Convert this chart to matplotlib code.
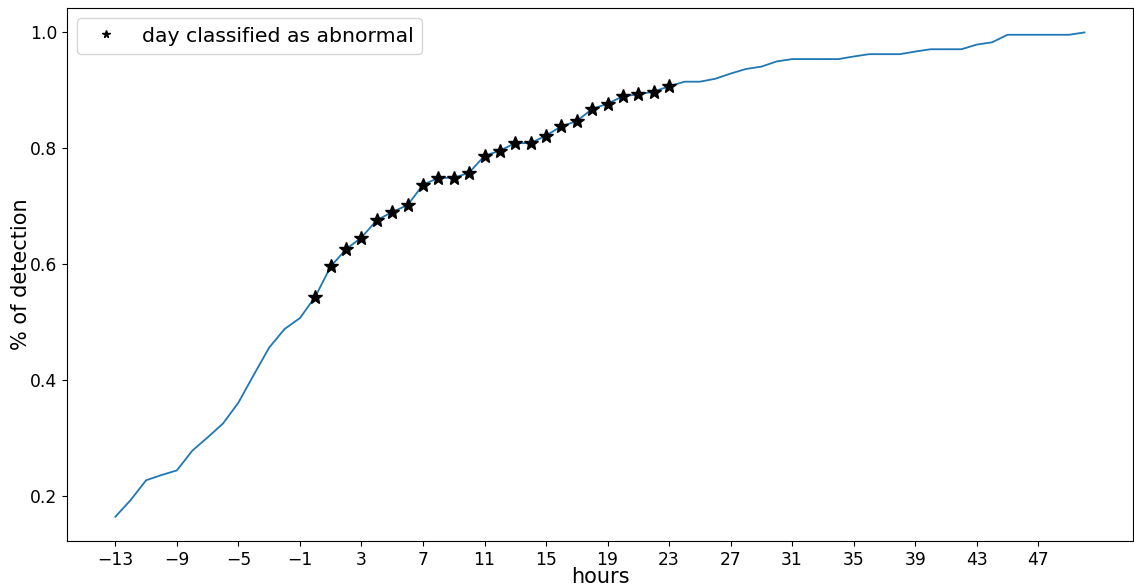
import numpy as np
import matplotlib.pyplot as plt

hours = np.arange(-13, 51)
detection = [0.164, 0.193, 0.227, 0.236, 0.244, 0.278, 0.301, 0.325, 0.361, 0.409,
             0.456, 0.488, 0.507, 0.544, 0.596, 0.626, 0.646, 0.676, 0.690, 0.702,
             0.737, 0.749, 0.749, 0.758, 0.787, 0.796, 0.809, 0.809, 0.822, 0.838,
             0.847, 0.868, 0.877, 0.890, 0.893, 0.898, 0.907, 0.915, 0.915, 0.920,
             0.929, 0.937, 0.941, 0.950, 0.954, 0.954, 0.954, 0.954, 0.9585, 0.9625,
             0.9625, 0.9625, 0.967, 0.971, 0.971, 0.971, 0.979, 0.983, 0.996, 0.996,
             0.996, 0.996, 0.996, 1.0]

# hours flagged as abnormal
abnormal_start, abnormal_end = 0, 23

hours = np.array(hours)
detection = np.array(detection)
mask = (hours >= abnormal_start) & (hours <= abnormal_end)

fig = plt.figure(figsize=(11.34, 5.88), dpi=100)
ax = fig.add_axes([0.059, 0.080, 0.940, 0.906])

ax.plot(hours, detection, color="#1f77b4", linewidth=1.3)
ax.plot(hours[mask], detection[mask], linestyle="none", marker="*",
        color="black", markersize=10, label="day classified as abnormal")

ax.set_xticks(np.arange(-13, 48, 4))
ax.set_yticks([0.2, 0.4, 0.6, 0.8, 1.0])
ax.tick_params(labelsize=12.3)
ax.set_xlabel("hours", fontsize=15, labelpad=-1)
ax.set_ylabel("% of detection", fontsize=15, labelpad=-1)
ax.legend(loc="upper left", fontsize=14.7, markerscale=0.55)

fig.savefig("out.png", dpi=100)
